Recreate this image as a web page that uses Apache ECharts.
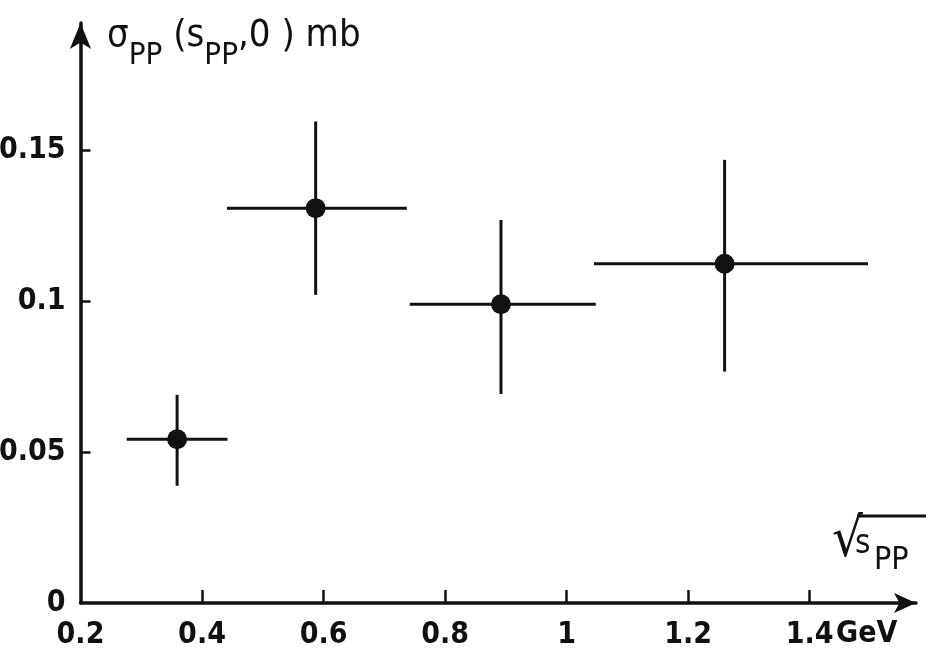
<!DOCTYPE html>
<html>
<head>
<meta charset="utf-8">
<script src="https://cdn.jsdelivr.net/npm/echarts@6/dist/echarts.min.js"></script>
<style>html,body{margin:0;padding:0;background:#fff}#c{width:930px;height:658px}</style>
</head>
<body>
<div id="c"></div>
<script>
const xCenters = [0.359, 0.587, 0.892, 1.260];
const yValues  = [0.0542, 0.1307, 0.0989, 0.1123];
const xLow     = [0.276, 0.441, 0.742, 1.045];
const xHigh    = [0.442, 0.737, 1.048, 1.496];
const yLow     = [0.0388, 0.102, 0.0692, 0.0766];
const yHigh    = [0.0689, 0.1594, 0.1268, 0.1467];
const xTicks   = [0.2, 0.4, 0.6, 0.8, 1, 1.2, 1.4];
const yTicks   = [0, 0.05, 0.1, 0.15];

const LBL = '"DejaVu Sans Condensed", sans-serif';
const TTL = '"DejaVu Sans Condensed", "DejaVu Sans", sans-serif';
const INK = '#111';

const errData = xCenters.map((x, i) => [x, yValues[i], xLow[i], xHigh[i], yLow[i], yHigh[i]]);
const ptData = xCenters.map((x, i) => [x, yValues[i]]);

const chart = echarts.init(document.getElementById('c'), null, {renderer: 'canvas'});
chart.setOption({
  backgroundColor: '#fff',
  animation: false,
  grid: {left: 80.5, right: 14, top: 23, bottom: 55, containLabel: false, outerBoundsMode: 'none'},
  xAxis: {
    type: 'value', min: 0.2, max: 1.575, interval: 0.2,
    splitLine: {show: false},
    axisLine: {show: true, onZero: false, symbol: ['none', 'arrow'], symbolSize: [15, 22],
      lineStyle: {color: INK, width: 3.5}},
    axisTick: {show: true, inside: true, length: 13, customValues: xTicks.slice(1),
      lineStyle: {color: INK, width: 2.5}},
    axisLabel: {show: true, customValues: xTicks, margin: 17, color: INK,
      fontFamily: LBL, fontWeight: 'bold', fontSize: 30,
      formatter: v => String(v)}
  },
  yAxis: {
    type: 'value', min: 0, max: 0.192, interval: 0.05,
    splitLine: {show: false},
    axisLine: {show: true, onZero: false, symbol: ['none', 'arrow'], symbolSize: [16, 26],
      lineStyle: {color: INK, width: 3.5}},
    axisTick: {show: true, inside: true, length: 10, customValues: yTicks.slice(1),
      lineStyle: {color: INK, width: 2.5}},
    axisLabel: {show: true, customValues: yTicks, margin: 15, color: INK,
      fontFamily: LBL, fontWeight: 'bold', fontSize: 30,
      formatter: v => String(v)}
  },
  series: [
    {
      type: 'custom',
      data: errData,
      encode: {x: [0, 2, 3], y: [1, 4, 5]},
      renderItem: function (params, api) {
        const l = api.coord([api.value(2), api.value(1)]);
        const r = api.coord([api.value(3), api.value(1)]);
        const b = api.coord([api.value(0), api.value(4)]);
        const t = api.coord([api.value(0), api.value(5)]);
        const st = {stroke: INK, lineWidth: 3};
        return {type: 'group', children: [
          {type: 'line', shape: {x1: l[0], y1: l[1], x2: r[0], y2: r[1]}, style: st},
          {type: 'line', shape: {x1: t[0], y1: t[1], x2: b[0], y2: b[1]}, style: st}
        ]};
      },
      z: 2
    },
    {
      type: 'scatter', data: ptData, symbol: 'circle', symbolSize: 20,
      itemStyle: {color: INK, opacity: 1}, z: 3
    }
  ],
  graphic: [
    {type: 'text', left: 107, top: 17, z: 10,
      style: {
        text: '{a|σ}{s|PP}{a| (}{b|s}{s|PP}{a|,0 ) mb}',
        rich: {
          a: {fontFamily: TTL, fontSize: 38, fill: INK, verticalAlign: 'top', lineHeight: 54},
          b: {fontFamily: TTL, fontSize: 38, fill: INK, verticalAlign: 'top', lineHeight: 54},
          s: {fontFamily: TTL, fontSize: 31, fill: INK, verticalAlign: 'bottom', lineHeight: 54}
        }
      }},
    {type: 'text', left: 836, top: 619, z: 10,
      style: {text: 'GeV', fontFamily: LBL, fontWeight: 'bold', fontSize: 30, fill: INK}},
    {type: 'text', left: 832, top: 515, z: 10,
      style: {text: '√', fontFamily: TTL, fontSize: 54, fill: INK}},
    {type: 'text', left: 855, top: 528, z: 10,
      style: {text: 's', fontFamily: TTL, fontSize: 33, fill: INK}},
    {type: 'text', left: 874, top: 545, z: 10,
      style: {text: 'PP', fontFamily: TTL, fontSize: 32, fill: INK}},
    {type: 'line', z: 10, shape: {x1: 857, y1: 516, x2: 926, y2: 516},
      style: {stroke: INK, lineWidth: 3}}
  ]
});
</script>
</body>
</html>
